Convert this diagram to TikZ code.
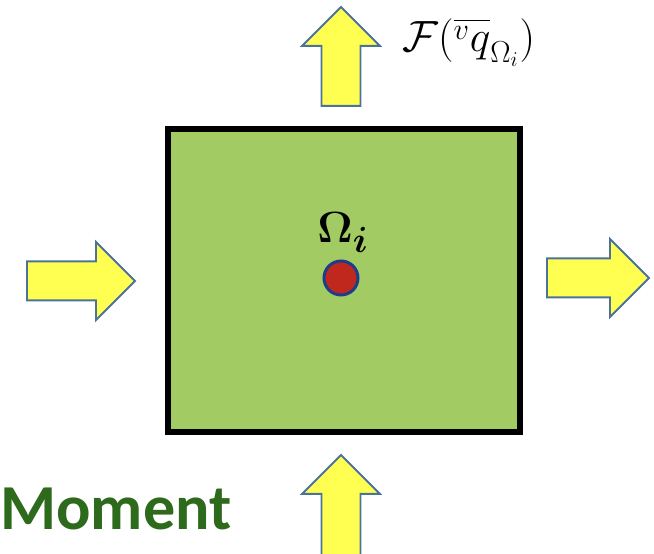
\documentclass[tikz,border=0pt]{standalone}
\usepackage{amsmath,amssymb}
\usepackage{fontspec}
\newfontfamily\momentfont{Carlito}
\usepackage{tikz}
\usetikzlibrary{calc}
\definecolor{cellgreen}{HTML}{A2CC63}
\definecolor{fluxyellow}{HTML}{FFFF52}
\definecolor{fluxedge}{HTML}{4C729A}
\definecolor{pointred}{HTML}{C0281E}
\definecolor{pointblue}{HTML}{1E3C8C}
\definecolor{momentgreen}{HTML}{2E6A1C}

\tikzset{
  pics/blockarrow/.style={code={
    \draw[fill=fluxyellow,draw=fluxedge,line width=0.04cm,line join=miter]
      (0,-19.5) -- ({#1-39},-19.5) -- ({#1-39},-39) -- (#1,0)
      -- ({#1-39},39) -- ({#1-39},19.5) -- (0,19.5) -- cycle;
  }}
}

\begin{document}
\begin{tikzpicture}[x=0.02cm,y=-0.02cm]
  \useasboundingbox (0,0) rectangle (654,554);
  \clip (0,0) rectangle (654,554);

  % Cell
  \node[draw=black,fill=cellgreen,line width=0.12cm,inner sep=0pt,minimum width=7.05cm,minimum height=6.08cm] (cell) at (343.75,280.5) {};
  \node[circle,draw=pointblue,fill=pointred,line width=0.06cm,inner sep=0pt,minimum size=0.68cm] (point) at (341,278) {};
  \node[anchor=base,inner sep=0pt,font=\fontsize{29}{32}\selectfont\boldmath] (omega) at (343,243) {$\Omega_i$};

  % Fluxes
  \pic at (27,281) {blockarrow=108};
  \pic at (547,278) {blockarrow=102};
  \pic[rotate=90] at (341,106) {blockarrow=99};
  \pic[rotate=90] at (341,560) {blockarrow=105};

  % Labels
  \node[anchor=base west,inner sep=0pt,font=\fontsize{24}{28}\selectfont] (flux) at (402,52) {$\mathcal{F}(\overline{{}^{v}q}_{\Omega_i})$};
  \node[anchor=base west,inner sep=0pt,text=momentgreen,font=\momentfont\bfseries\fontsize{36.5}{40}\selectfont] (moment) at (0,530) {Moment};
\end{tikzpicture}
\end{document}
